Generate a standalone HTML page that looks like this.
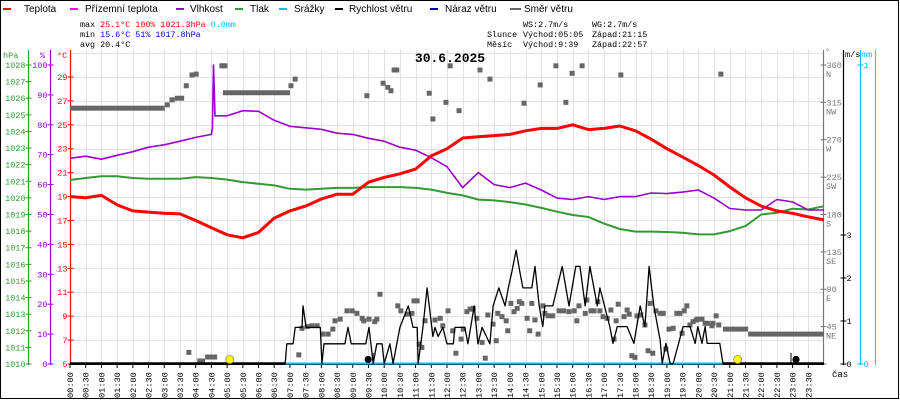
<!DOCTYPE html>
<html><head><meta charset="utf-8">
<style>
html,body{margin:0;padding:0;background:#fff;}
svg{display:block;font-family:"Liberation Mono",monospace;}
</style></head>
<body>
<svg id="chart" width="900" height="400" viewBox="0 0 900 400" xmlns="http://www.w3.org/2000/svg">
<rect x="0" y="0" width="900" height="400" fill="#fff"/>
<g font-family="Liberation Sans, sans-serif" font-size="10" fill="#000">
  <g><rect x="3" y="8" width="8" height="2" fill="#ff0000"/><text x="24" y="12">Teplota</text></g>
  <g><rect x="70" y="8" width="8" height="2" fill="#ff00ff"/><text x="85" y="12">Přízemní teplota</text></g>
  <g><rect x="176" y="8" width="8" height="2" fill="#9900cc"/><text x="190" y="12">Vlhkost</text></g>
  <g><rect x="235" y="8" width="8" height="2" fill="#339933"/><text x="250" y="12">Tlak</text></g>
  <g><rect x="279" y="8" width="8" height="2" fill="#00bfff"/><text x="294" y="12">Srážky</text></g>
  <g><rect x="335" y="8" width="8" height="2" fill="#000"/><text x="349" y="12">Rychlost větru</text></g>
  <g><rect x="430" y="8" width="8" height="2" fill="#0000cc"/><text x="445" y="12">Náraz větru</text></g>
  <g><rect x="510" y="8" width="11" height="2" fill="#666"/><text x="524" y="12">Směr větru</text></g>
</g>
<g font-size="8.4">
  <text x="80" y="27"><tspan fill="#000">max </tspan><tspan fill="#ff0000">25.1°C 100%  1021.3hPa</tspan><tspan fill="#00bfff">   0.0mm</tspan></text>
  <text x="80" y="37"><tspan fill="#000">min </tspan><tspan fill="#0000cc">15.6°C  51%  1017.8hPa</tspan></text>
  <text x="80" y="47" fill="#000">avg 20.4°C</text>
</g>
<g font-size="8.4" fill="#000">
  <text x="523" y="27">WS:2.7m/s</text><text x="592" y="27">WG:2.7m/s</text>
  <text x="487" y="37">Slunce</text><text x="523" y="37">Východ:05:05</text><text x="592" y="37">Západ:21:15</text>
  <text x="487" y="47">Měsíc</text><text x="523" y="47">Východ:9:39</text><text x="592" y="47">Západ:22:57</text>
</g>
<g id="grid"></g>
<g id="axes"></g>
<g id="series"></g>
<text x="450" y="62" text-anchor="middle" font-size="13" font-weight="bold" font-family="Liberation Mono, monospace">30.6.2025</text>
<rect x="0.5" y="0.5" width="898" height="398" fill="none" stroke="#000"/>
</svg>
<script>
// ---- data ----
const halfHourTimes = Array.from({length:49},(_,i)=>i*30);
const temperature = [19.0,18.9,19.1,18.3,17.8,17.7,17.6,17.55,17.0,16.4,15.8,15.55,16.0,17.2,17.8,18.2,18.8,19.2,19.2,20.2,20.6,20.9,21.3,22.4,23.0,23.9,24.0,24.1,24.2,24.5,24.7,24.7,25.0,24.6,24.7,24.9,24.5,23.8,23.0,22.3,21.6,20.8,19.8,18.9,18.2,17.8,17.6,17.3,17.05];
const humidity = [68.8,69.5,68.5,69.8,71.0,72.5,73.3,74.5,75.8,76.8,83,84.7,84.5,81.5,79.5,79,78.5,77.2,76.8,75.5,74.5,72.5,71.5,69,66,59,64,60,59,60.5,58.2,55.5,55,56,55,56,56,57.2,57,57.5,58.2,55.5,52,51.5,51.5,55,54.2,51.5,51.5];
const humiditySpikeTime = 274;
const humiditySpikeValue = 100;
const pressure = [1021.08,1021.2,1021.3,1021.3,1021.2,1021.15,1021.15,1021.15,1021.25,1021.2,1021.1,1020.95,1020.85,1020.75,1020.55,1020.5,1020.55,1020.6,1020.6,1020.65,1020.65,1020.65,1020.6,1020.5,1020.3,1020.15,1019.9,1019.85,1019.75,1019.6,1019.4,1019.17,1018.97,1018.85,1018.45,1018.13,1017.97,1017.97,1017.95,1017.9,1017.8,1017.8,1018.0,1018.3,1019.0,1019.1,1019.35,1019.3,1019.5];
const windTimes = [0,411,414,426,430,443,445,451,478,481,485,525,531,537,565,571,579,586,596,600,611,617,630,646,655,663,665,674,682,693,697,703,712,720,732,735,754,760,772,779,787,802,808,819,831,837,844,852,859,865,882,888,896,903,907,922,940,953,966,974,984,993,1007,1012,1031,1037,1045,1064,1077,1089,1098,1106,1115,1127,1131,1138,1146,1152,1171,1184,1194,1199,1207,1213,1217,1241,1247,1440];
const windSpeed = [0,0,0.47,0.47,0.85,0.85,1.35,0.85,0.85,0,0.47,0.47,0.85,0.47,0.47,0.85,0,0.47,0.47,0,0.47,0,0.85,1.35,0.85,0.85,0,0.85,1.77,0.64,0.85,0.64,0.85,0.47,0.47,0.85,0.85,0.47,1.35,0.47,0.85,0.47,1.35,1.77,1.35,1.77,2.15,2.65,2.15,1.77,1.77,2.27,1.35,0.87,1.35,1.35,2.27,1.35,2.27,2.27,1.35,2.27,1.35,1.77,0.87,0.48,0.87,0.87,0.48,1.35,0.87,2.27,1.35,0.56,0,0.48,0,0,0.87,0.87,0.48,0.87,0.48,0.87,0.48,0.48,0,0];
const dirRunStart = [0,181,190,200,292,243,258,1247,1295];
const dirRunEnd   = [181,190,200,218,420,258,281,1295,1440];
const dirRunDeg   = [308,312,318,320,326.6,3.6,8.4,42,36];
const dirTimes = [222,233,241,290,296,422,430,567,598,607,613,619,624,686,693,718,726,743,783,802,867,898,928,947,959,978,1052,1243,227,437,443,453,462,472,483,493,502,506,516,529,539,548,558,561,571,582,586,592,626,632,644,653,657,663,667,672,678,697,707,712,722,731,737,747,751,758,764,770,777,787,793,798,808,814,817,825,833,836,842,848,854,858,863,873,878,882,888,894,903,907,913,922,934,943,953,963,968,972,984,987,995,1001,1008,1012,1018,1026,1033,1039,1043,1047,1058,1064,1068,1073,1079,1083,1090,1098,1104,1108,1113,1119,1127,1133,1138,1144,1152,1159,1165,1169,1173,1178,1184,1190,1196,1199,1207,1213,1218,1226,1228,1234,1239];
const dirDeg = [335,348,349,359,359,335,343,323,338,333,329,354,354,326,295,315,359,305,354,343,314,336,359,315,350,359,348,349,14,11,43,45,46,46,36,36,42,52,54,64,64,61,55,52,54,51,54,84,70,64,60,61,76,76,24,20,52,53,55,46,64,40,13,30,42,63,66,67,55,26,7,59,48,28,61,57,52,40,73,63,67,75,73,55,40,73,53,36,70,61,58,58,64,64,63,64,52,70,61,77,64,64,75,64,57,55,65,30,52,72,57,65,60,10,8,58,59,47,16,73,13,64,61,61,18,42,43,61,61,37,64,70,47,51,53,54,54,49,49,46,49,58,47];
const rainStart = 411, rainEnd = 1247;
const sunTimes = [305,1275];
const moonTimes = [579,1377];
const hpaTicks = [1010,1011,1012,1013,1014,1015,1016,1017,1018,1019,1020,1021,1022,1023,1024,1025,1026,1027,1028];
const humTicks = [0,10,20,30,40,50,60,70,80,90,100];
const tempTicks = [5,7,9,11,13,15,17,19,21,23,25,27,29];
const dirTicks = [0,45,90,135,180,225,270,315,360];
const dirNames = ["","NE","E","SE","S","SW","W","NW","N"];
const windTicks = [0,1,2,3];
const timeLabels = ["00:00","00:30","01:00","01:30","02:00","02:30","03:00","03:30","04:00","04:30","05:00","05:30","06:00","06:30","07:00","07:30","08:00","08:30","09:00","09:30","10:00","10:30","11:00","11:30","12:00","12:30","13:00","13:30","14:00","14:30","15:00","15:30","16:00","16:30","17:00","17:30","18:00","18:30","19:00","19:30","20:00","20:30","21:00","21:30","22:00","22:30","23:00","23:30"];

// ---- scales ----
const X0=70, X1=824, Y0=364, YT=50;
const xT = m => X0 + m*(X1-X0)/1440;
const yTemp = v => Y0 - (v-5)*11.96;
const yHum = v => Y0 - v*2.99;
const yHpa = v => Y0 - (v-1010)*16.61;
const yDir = v => Y0 - v*0.8306;
const yWind = v => Y0 - v*43;
const yMm = v => Y0 - v*299;

const NS="http://www.w3.org/2000/svg";
function mk(tag, attrs, parent){const e=document.createElementNS(NS,tag);for(const k in attrs)e.setAttribute(k,attrs[k]);parent.appendChild(e);return e;}
const grid=document.getElementById('grid'), axes=document.getElementById('axes'), series=document.getElementById('series');

// grid
timeLabels.forEach((t,i)=>{
  const x=Math.round(xT(i*30))+0.5;
  const l=mk('line',{x1:x,x2:x,y1:YT,y2:Y0,stroke:'#e6e0e0','stroke-width':1},grid);
  
  
});
tempTicks.concat([31]).forEach(v=>{
  const y=Math.round(yTemp(v))+0.5;
  const l=mk('line',{x1:X0,x2:X1,y1:y,y2:y,stroke:'#e6e0e0','stroke-width':1},grid);
  
  
});

// axes helper
function axis(name,x,color,ticks,scale,labelSide,labels,fs){
  const g=mk('g',{},axes);
  
  
  mk('line',{x1:x,x2:x,y1:YT,y2:Y0+1,stroke:color,'stroke-width':1.2},g);
  ticks.forEach((v,i)=>{
    const y=scale(v);
    mk('line',{x1:x-3,x2:x+3,y1:y,y2:y,stroke:color,'stroke-width':1},g);
    const t=mk('text',{x:labelSide<0?x-3:x+3,y:y+3,'text-anchor':labelSide<0?'end':'start',fill:color,'font-size':fs||9},g);
    t.textContent=labels?labels[i]:String(v);
    
    
  });
  return g;
}
axis('pressure-axis',28.5,'#339933',hpaTicks,yHpa,-1,null,8.5);
axis('humidity-axis',50.5,'#9900cc',humTicks,yHum,-1,null,8.5);
axis('temperature-axis',70.5,'#ff0000',tempTicks,yTemp,-1,null,8.5);
const dirAx=axis('direction-axis',823.5,'#777',dirTicks,yDir,1,dirTicks.map(v=>v===0?'':String(v)),8.5);
dirTicks.forEach((v,i)=>{
  const t=mk('text',{x:826,y:yDir(v)+12,fill:'#777','font-size':8.5},dirAx);
  t.textContent=dirNames[i];
  
  
});
axis('wind-speed-axis',843.5,'#000',windTicks,yWind,1,null,8.5);
axis('rain-axis',860.5,'#00bfff',[0,1],yMm,1,null,8.5);
mk('line',{x1:875.5,x2:875.5,y1:YT,y2:Y0+1,stroke:'#ff8c1a','stroke-width':1.2},axes);
[['hPa',3,58,'#339933'],['%',40,58,'#9900cc'],['°C',57,58,'#ff0000'],['°',825,54,'#777'],['m/s',845,57,'#000'],['mm',862,57,'#00bfff']].forEach(a=>{
  const t=mk('text',{x:a[1],y:a[2],fill:a[3],'font-size':8.5},axes);
  t.textContent=a[0];
  
  
});
// x axis
mk('line',{x1:X0,x2:X1,y1:Y0+0.5,y2:Y0+0.5,stroke:'#000','stroke-width':1},axes);
timeLabels.forEach((lab,i)=>{
  const x=xT(i*30);
  mk('line',{x1:x,x2:x,y1:Y0,y2:Y0+4,stroke:'#000','stroke-width':1},axes);
  const t=mk('text',{x:0,y:0,'font-size':8.6,fill:'#000',transform:`translate(${x+3},398) rotate(-90)`},axes);
  t.textContent=lab;
  
  
});
const cas=mk('text',{x:832,y:377,'font-size':9,fill:'#000'},axes);
cas.textContent='čas';



// direction runs
dirRunStart.forEach((s,i)=>{
  const r=mk('rect',{x:xT(s),y:yDir(dirRunDeg[i])-2.5,width:Math.max(5,xT(dirRunEnd[i])-xT(s)),height:5,fill:'#666'},series);
  
  
});
dirTimes.forEach((m,i)=>{
  const r=mk('rect',{x:xT(m)-2.5,y:yDir(dirDeg[i])-2.5,width:5,height:5,fill:'#666'},series);
  
  
});
// rain line
const rl=mk('line',{x1:xT(rainStart),x2:xT(rainEnd),y1:Y0-0.5,y2:Y0-0.5,stroke:'#00bfff','stroke-width':2},series);


// wind speed
function poly(name,pts,color,w){
  const p=mk('polyline',{points:pts.map(p=>p[0].toFixed(1)+','+p[1].toFixed(1)).join(' '),fill:'none',stroke:color,'stroke-width':w,'stroke-linejoin':'round'},series);
  
  
}
poly('wind-speed-line',windTimes.map((m,i)=>[xT(m),yWind(windSpeed[i])-(windSpeed[i]===0?0.5:0)]),'#000',1.3);
[[0,windTimes[1]],[windTimes[windTimes.length-2],1440]].forEach(s=>{
  const b=mk('line',{x1:xT(s[0]),x2:xT(s[1]),y1:Y0-0.5,y2:Y0-0.5,stroke:'#000','stroke-width':2.5},series);
  
  
});
// pressure, humidity, temperature
poly('pressure-line',halfHourTimes.map((m,i)=>[xT(m),yHpa(pressure[i])]),'#339933',2);
const humPts=halfHourTimes.map((m,i)=>[xT(m),yHum(humidity[i])]);
const si=humPts.findIndex(p=>p[0]>xT(humiditySpikeTime));
humPts.splice(si,0,[xT(humiditySpikeTime-2),yHum(humidity[si-1]+2)],[xT(humiditySpikeTime),yHum(humiditySpikeValue)],[xT(humiditySpikeTime+3),yHum(humidity[si])]);
poly('humidity-line',humPts,'#9900cc',1.6);
poly('temperature-line',halfHourTimes.map((m,i)=>[xT(m),yTemp(temperature[i])]),'#ff0000',3);
// sun / moon markers
sunTimes.forEach(m=>{
  const c=mk('circle',{cx:xT(m),cy:359.5,r:4,fill:'#ffff00',stroke:'#888','stroke-width':0.8},series);
  
  
});
moonTimes.forEach((m,i)=>{
  const off=i===0?-5:5;
  const c=mk('circle',{cx:xT(m)+off,cy:359.5,r:3.6,fill:'#000'},series);
  
  
  mk('line',{x1:xT(m),x2:xT(m),y1:353,y2:363,stroke:'#000','stroke-width':1},series);
});
</script>
</body></html>
